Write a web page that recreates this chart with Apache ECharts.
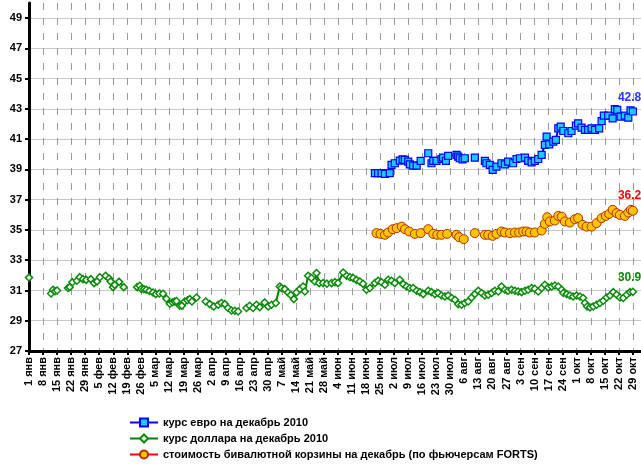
<!DOCTYPE html>
<html>
<head>
<meta charset="utf-8">
<script src="https://cdn.jsdelivr.net/npm/echarts@6/dist/echarts.min.js"></script>
<style>html,body{margin:0;padding:0;background:#fff;overflow:hidden}#c{width:641px;height:468px}</style>
</head>
<body>
<div id="c"></div>
<script>
// x tick labels (one per week, day index = 7*i from 1 Jan)
var xTickLabels = ['1 янв','8 янв','15 янв','22 янв','29 янв','5 фев','12 фев','19 фев','26 фев','5 мар','12 мар','19 мар','26 мар','2 апр','9 апр','16 апр','23 апр','30 апр','7 май','14 май','21 май','28 май','4 июн','11 июн','18 июн','25 июн','2 июл','9 июл','16 июл','23 июл','30 июл','6 авг','13 авг','20 авг','27 авг','3 сен','10 сен','17 сен','24 сен','1 окт','8 окт','15 окт','22 окт','29 окт'];

var seriesNames = ['курс евро на декабрь 2010','курс доллара на декабрь 2010','стоимость бивалютной корзины на декабрь (по фьючерсам FORTS)'];

// day index from 1 Jan; null = break in the line
var usdDays = [0,5,11,12,13,14,16,19.4,20.3,21.6,23.9,25.3,26.9,28.5,30.8,32.4,33.9,35.3,38.2,39.9,40.7,41.9,42.7,44.9,47.2,50,
53.9,55.2,56,57.3,58.5,60,61.8,63.2,65,66.8,68.5,70.2,71.5,72.6,73.5,75.1,76.2,77.6,79,80.1,81.2,83.5,86,
88.1,90.1,92.1,94.3,95.9,97.6,99.2,100.9,102.6,104.2,106,
108.4,110,111.7,113.4,115,117.5,119.2,120.9,123,125,125.8,127.5,129.1,130.5,132,133.3,135,136.6,137.5,139.1,140.8,142.5,143.3,144.6,146.6,148.5,150.8,152.5,154,156.6,158.3,160,161.6,163.2,164.9,166.5,168.2,169.9,172.4,174,175.7,177.4,179,180.7,182.3,184.8,186.5,188.2,189.8,191.5,193.2,194.8,196.5,199,200.6,202.3,203.9,205.6,207.3,208.9,210.6,212.3,213.9,215.6,217.2,218.9,220.6,222.2,223.9,225.6,227.2,228.9,230.6,232.2,233.9,235.5,237.2,238.8,240.5,242.2,243.8,245.5,247.2,248.8,250.5,252.1,253.8,255.5,257.1,258.8,260.5,262.1,263.8,265.5,266.3,268,269.6,271.2,272.9,274.6,276.2,277.1,278.2,279.6,281.2,282.9,284.6,286.2,287.9,289.6,291.2,292.9,294.5,296.2,297.9,299.5,301];
var usdValues = [31.85,null,30.8,31.05,30.95,31.0,null,31.16,31.22,31.55,31.64,31.88,31.75,31.7,31.75,31.49,31.6,31.88,31.97,31.79,31.6,31.22,31.37,31.57,31.22,null,
31.22,31.31,31.1,31.08,31.05,30.97,30.87,30.76,30.8,30.78,30.45,30.12,30.22,30.27,30.3,29.99,30.0,30.27,30.35,30.43,30.27,30.54,null,
30.27,30.1,29.94,30.06,30.17,30.1,29.84,29.68,29.66,29.61,null,
29.84,29.99,29.84,30.06,29.9,30.21,29.94,30.06,30.17,31.26,31.16,31.09,30.87,30.7,30.43,30.87,31.09,31.26,30.93,31.97,31.82,31.59,32.15,31.49,31.49,31.45,31.49,31.55,31.49,32.19,31.97,31.88,31.82,31.7,31.59,31.44,31.05,31.16,31.49,31.64,31.55,31.38,31.71,31.64,31.49,31.71,31.42,31.26,31.16,31.16,30.98,30.89,30.76,30.98,30.89,30.76,30.83,30.67,30.6,30.67,30.5,30.39,30.1,30.06,30.17,30.27,30.54,30.76,30.98,30.83,30.67,30.72,30.83,30.98,30.93,31.26,31.05,30.98,31.05,30.98,30.93,30.89,30.98,31.05,31.16,31.11,30.93,31.16,31.38,31.2,31.26,31.33,31.26,31.05,30.83,30.76,30.67,30.6,30.67,30.6,30.5,30.17,29.94,29.88,29.94,30.06,30.17,30.32,30.54,30.67,30.89,30.72,30.54,30.5,30.72,30.89,30.91];

var eurDays = [172.4,174,175.7,177.4,179.8,180.7,182.3,184.8,186.2,187.3,189,189.8,191.5,193.2,195.2,197,199,200,
200.6,201.5,203.1,205.6,206.4,207.8,208.9,213.1,213.9,214.7,216.1,217.2,220,222.2,224,
227.2,228,229.7,231.1,233,235.5,237.2,238.8,241.3,243,244.7,247.2,248.8,250.5,252.1,253.8,255.5,257.1,258,259.3,261.3,262.6,263.8,265,266.3,268.8,270.4,272.6,273.7,275.4,277.1,278.7,280.4,282.1,284.2,285.4,286.5,288.7,290.9,292,293.2,294.9,297,298.7,299.8,301];
var eurValues = [38.75,38.75,38.75,38.7,38.75,39.3,39.41,39.58,39.67,39.63,39.52,39.34,39.25,39.25,39.56,null,40.07,null,
39.41,39.56,39.56,39.69,39.78,39.56,39.89,39.96,39.85,39.74,39.67,39.74,null,39.78,null,
39.56,39.41,39.3,38.97,39.19,39.41,39.34,39.52,39.41,39.69,39.74,39.78,39.56,39.47,39.56,39.69,39.96,40.62,41.17,40.66,40.84,40.95,41.72,41.83,41.54,41.39,41.54,41.89,42.05,41.76,41.61,41.61,41.72,41.61,41.72,42.2,42.55,42.55,42.38,42.99,42.93,42.49,42.55,42.42,42.9,42.83];

var basketDays = [173.2,175.2,177.4,179,181.3,183.3,185.8,187.4,189.5,192.3,195.2,197,199,200,
201.5,203.5,205.6,208.4,213.1,214.4,216.7,220,222.2,224,
227.2,228.9,231.1,233,235.5,237.2,239.7,242.2,244.3,246.3,248,249.6,252.1,255.5,257.1,258.3,259.6,262.1,263.8,265.5,267.1,269.6,272.1,273.7,275.9,277.9,280.4,282.9,285.4,287.5,289.2,290.9,292.9,294.5,297,298.7,300,301];
var basketValues = [34.79,34.74,34.68,34.83,35.05,35.12,35.22,35.05,34.9,34.74,34.79,null,35.05,null,
34.74,34.68,34.68,34.74,34.68,34.52,34.39,null,34.79,null,
34.68,34.68,34.61,34.74,34.9,34.83,34.79,34.83,34.83,34.9,34.9,34.83,34.83,34.96,35.4,35.84,35.56,35.62,35.93,35.88,35.56,35.49,35.71,35.78,35.34,35.22,35.22,35.45,35.78,35.93,36.06,36.33,36.11,36.0,35.93,36.15,36.33,36.27];

function build(days, vals, labelColor) {
  var out = days.map(function (d, i) {
    return [d, vals[i] == null ? '-' : vals[i]];
  });
  var last = out.length - 1;
  out[last] = {
    value: out[last],
    label: {
      show: true, position: 'top', distance: 4,
      formatter: function (p) { return p.value[1].toFixed(2); },
      color: labelColor, fontWeight: 'bold', fontSize: 12, fontFamily: 'Liberation Sans, Arial'
    }
  };
  return out;
}

var chart = echarts.init(document.getElementById('c'), null, {renderer: 'canvas'});
var font = 'Liberation Sans, Arial, sans-serif';
chart.setOption({
  animation: false,
  backgroundColor: '#fff',
  grid: {left: 29, width: 632, top: 3, height: 348, containLabel: false, outerBoundsMode: 'none'},
  legend: {
    orient: 'vertical', left: 129, top: 417, padding: 0, itemWidth: 28, itemHeight: 10, itemGap: 5,
    textStyle: {fontFamily: font, fontWeight: 'bold', fontSize: 11, color: '#000'},
    data: seriesNames
  },
  xAxis: {
    type: 'value', min: 0, max: 315, interval: 7,
    axisLine: {show: true, onZero: false, lineStyle: {color: '#000', width: 3}},
    axisTick: {show: true, length: 4, lineStyle: {color: '#000', width: 2}},
    axisLabel: {
      rotate: 90, margin: 6, fontFamily: font, fontWeight: 'bold', fontSize: 11, color: '#000',
      showMaxLabel: false,
      formatter: function (v) {
        var i = Math.round(v / 7);
        return (Math.abs(v - i * 7) < 0.01 && i < xTickLabels.length) ? xTickLabels[i] : '';
      }
    },
    splitLine: {show: true, showMaxLine: false, lineStyle: {color: '#9a9a9a', width: 1, type: [7, 8]}}
  },
  yAxis: {
    type: 'value', min: 27, max: 50, interval: 2,
    axisLine: {show: true, lineStyle: {color: '#000', width: 3}},
    axisTick: {show: true, length: 4, lineStyle: {color: '#000', width: 2}},
    axisLabel: {margin: 7, fontFamily: font, fontWeight: 'bold', fontSize: 11, color: '#000', showMaxLabel: false},
    splitLine: {show: true, showMaxLine: false, lineStyle: {color: '#c8c8c8', width: 1}}
  },
  series: [
    {
      name: seriesNames[0], type: 'line', data: build(eurDays, eurValues, '#2a35ff'),
      symbol: 'rect', symbolSize: 7, showAllSymbol: true, connectNulls: false,
      lineStyle: {color: '#0000ff', width: 2},
      itemStyle: {color: '#1ec8ff', borderColor: '#0000ff', borderWidth: 1.2}
    },
    {
      name: seriesNames[1], type: 'line', data: build(usdDays, usdValues, '#0a8a0a'),
      symbol: 'diamond', symbolSize: 7, showAllSymbol: true, connectNulls: false,
      lineStyle: {color: '#008000', width: 2},
      itemStyle: {color: '#ffffff', borderColor: '#0a8a0a', borderWidth: 1.5}
    },
    {
      name: seriesNames[2], type: 'line', data: build(basketDays, basketValues, '#ff0000'),
      symbol: 'circle', symbolSize: 9, showAllSymbol: true, connectNulls: false,
      lineStyle: {color: '#ff0000', width: 2},
      itemStyle: {color: '#ffc400', borderColor: '#b03000', borderWidth: 1}
    }
  ]
});
</script>
</body>
</html>
